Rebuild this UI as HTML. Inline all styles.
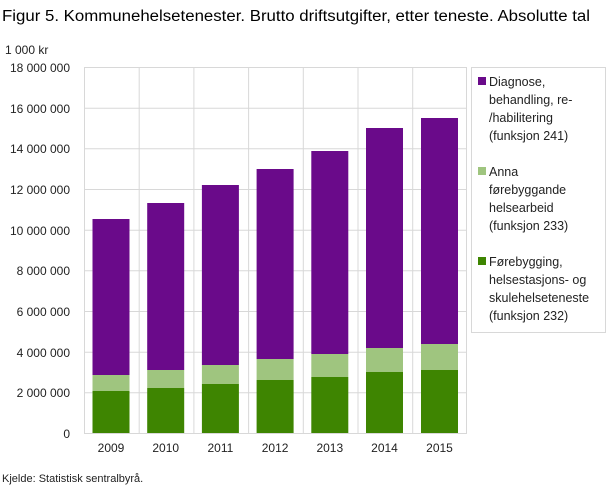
<!DOCTYPE html>
<html><head><meta charset="utf-8"><style>
body{margin:0;background:#fff;font-family:"Liberation Sans",sans-serif;}
</style></head><body>
<svg width="609" height="488" xmlns="http://www.w3.org/2000/svg" font-family="Liberation Sans, sans-serif">
<text x="2" y="21" font-size="15.5" fill="#000" textLength="588" lengthAdjust="spacingAndGlyphs">Figur 5. Kommunehelsetenester. Brutto driftsutgifter, etter teneste. Absolutte tal</text>
<text x="5" y="54" font-size="12" fill="#222">1 000 kr</text>
<g stroke="#d8d8d8" stroke-width="1" fill="none">
<rect x="84.5" y="67.5" width="382" height="366"/>
<line x1="84" x2="467" y1="108.2" y2="108.2"/><line x1="84" x2="467" y1="148.8" y2="148.8"/>
<line x1="84" x2="467" y1="189.5" y2="189.5"/><line x1="84" x2="467" y1="230.2" y2="230.2"/>
<line x1="84" x2="467" y1="270.8" y2="270.8"/><line x1="84" x2="467" y1="311.5" y2="311.5"/>
<line x1="84" x2="467" y1="352.2" y2="352.2"/><line x1="84" x2="467" y1="392.8" y2="392.8"/>
<line x1="139.2" x2="139.2" y1="67" y2="433"/><line x1="193.9" x2="193.9" y1="67" y2="433"/>
<line x1="248.6" x2="248.6" y1="67" y2="433"/><line x1="303.3" x2="303.3" y1="67" y2="433"/>
<line x1="358" x2="358" y1="67" y2="433"/><line x1="412.7" x2="412.7" y1="67" y2="433"/>
</g>
<g font-size="12" fill="#222" text-anchor="end">
<text x="70" y="72">18 000 000</text><text x="70" y="113">16 000 000</text><text x="70" y="153">14 000 000</text>
<text x="70" y="194">12 000 000</text><text x="70" y="235">10 000 000</text><text x="70" y="275">8 000 000</text>
<text x="70" y="316">6 000 000</text><text x="70" y="357">4 000 000</text><text x="70" y="397">2 000 000</text>
<text x="70" y="438">0</text>
</g>
<g>
<rect x="92.5" y="219" width="37" height="156" fill="#6a0a8a"/><rect x="92.5" y="375" width="37" height="16" fill="#9fc57f"/><rect x="92.5" y="391" width="37" height="42" fill="#3e8501"/>
<rect x="147.2" y="203" width="37" height="167" fill="#6a0a8a"/><rect x="147.2" y="370" width="37" height="18" fill="#9fc57f"/><rect x="147.2" y="388" width="37" height="45" fill="#3e8501"/>
<rect x="201.9" y="185" width="37" height="180" fill="#6a0a8a"/><rect x="201.9" y="365" width="37" height="19" fill="#9fc57f"/><rect x="201.9" y="384" width="37" height="49" fill="#3e8501"/>
<rect x="256.6" y="169" width="37" height="190" fill="#6a0a8a"/><rect x="256.6" y="359" width="37" height="21" fill="#9fc57f"/><rect x="256.6" y="380" width="37" height="53" fill="#3e8501"/>
<rect x="311.3" y="151" width="37" height="203" fill="#6a0a8a"/><rect x="311.3" y="354" width="37" height="23" fill="#9fc57f"/><rect x="311.3" y="377" width="37" height="56" fill="#3e8501"/>
<rect x="366" y="128" width="37" height="220" fill="#6a0a8a"/><rect x="366" y="348" width="37" height="24" fill="#9fc57f"/><rect x="366" y="372" width="37" height="61" fill="#3e8501"/>
<rect x="421" y="118" width="37" height="226" fill="#6a0a8a"/><rect x="421" y="344" width="37" height="26" fill="#9fc57f"/><rect x="421" y="370" width="37" height="63" fill="#3e8501"/>
</g>
<g font-size="12" fill="#222" text-anchor="middle">
<text x="111" y="452">2009</text><text x="165.7" y="452">2010</text><text x="220.4" y="452">2011</text>
<text x="275.1" y="452">2012</text><text x="329.8" y="452">2013</text><text x="384.5" y="452">2014</text><text x="439.5" y="452">2015</text>
</g>
<rect x="471.5" y="67.5" width="134" height="265" fill="none" stroke="#d8d8d8"/>
<g font-size="12.5" fill="#222">
<rect x="478" y="77" width="8" height="8" fill="#6a0a8a"/>
<text x="489" y="86">Diagnose,</text><text x="489" y="104">behandling, re-</text><text x="489" y="122">/habilitering</text><text x="489" y="140">(funksjon 241)</text>
<rect x="478" y="167" width="8" height="8" fill="#9fc57f"/>
<text x="489" y="176">Anna</text><text x="489" y="194">førebyggande</text><text x="489" y="212">helsearbeid</text><text x="489" y="230">(funksjon 233)</text>
<rect x="478" y="257" width="8" height="8" fill="#3e8501"/>
<text x="489" y="266">Førebygging,</text><text x="489" y="284">helsestasjons- og</text><text x="489" y="302">skulehelseteneste</text><text x="489" y="320">(funksjon 232)</text>
</g>
<text x="2" y="482" font-size="11" fill="#222">Kjelde: Statistisk sentralbyrå.</text>
</svg>
</body></html>
